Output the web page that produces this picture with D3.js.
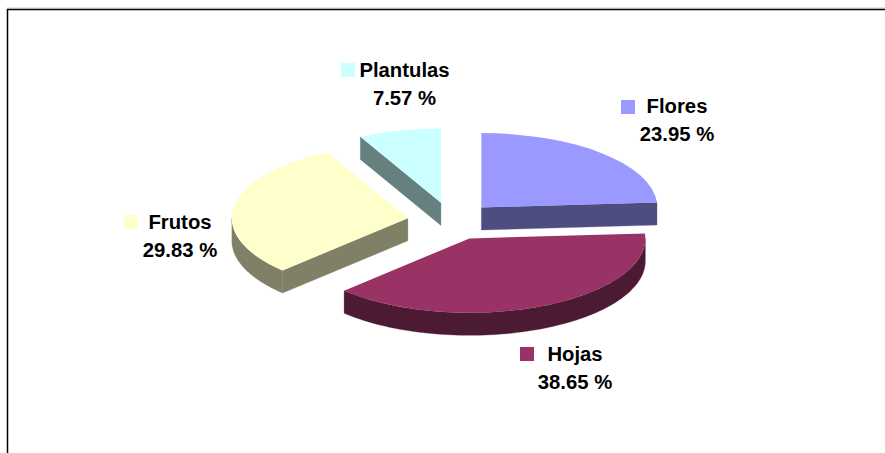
<!DOCTYPE html>
<html><head><meta charset="utf-8">
<script src="https://cdn.jsdelivr.net/npm/d3@7"></script>
<style>html,body{margin:0;padding:0;background:#fff}svg{display:block}
text{font-family:"Liberation Sans",Arial,sans-serif;font-weight:bold;font-size:20.3px;fill:#000;text-anchor:middle}</style>
</head><body><div id="chart"></div>
<script>
const categories = ["Flores","Hojas","Frutos","Plantulas"];
const values = [23.95,38.65,29.83,7.57];
const topColors = ["#9999FF","#993366","#FFFFCC","#CCFFFF"];
const sideColors = ["#4D4D80","#4D1A33","#808066","#668080"];

const W=885,H=453, cx=451.3, cy=221.2, rx=176, ry=74.3, depth=22.6, explodeX=44, explodeY=18.9;
const labelPos = [ {x:677,y:113,kx:621,ky:100}, {x:575,y:361,kx:520,ky:347},
                   {x:180,y:229,kx:124,ky:215}, {x:404.5,y:77,kx:341,ky:63} ];
const svg=d3.select("#chart").append("svg").attr("width",W).attr("height",H);

svg.append("path").attr("d",d3.line()([[7.5,H],[7.5,9.5],[W,9.5]]))
  .attr("fill","none").attr("stroke","#000").attr("stroke-width",1.5);
svg.append("line").attr("x1",7).attr("x2",W).attr("y1",8.2).attr("y2",8.2).attr("stroke","#aaa").attr("stroke-width",1);

const pie=d3.pie().sort(null).value(d=>d);
const arcs=pie(values).map((a,i)=>{
  const mid=(a.startAngle+a.endAngle)/2;
  return {...a,i,ox:cx+explodeX*Math.sin(mid),oy:cy-explodeY*Math.cos(mid)};
});
const px=(d,t)=>d.ox+rx*Math.sin(t), py=(d,t)=>d.oy-ry*Math.cos(t);
const arcGen=d3.arc().innerRadius(0).outerRadius(rx);
const wall=d3.area().x(p=>p.x).y0(p=>p.y).y1(p=>p.y+depth);

const order=[arcs[3],arcs[0],arcs[2],arcs[1]];
order.forEach(d=>{
  const g=svg.append("g").attr("class","slice");
  const side=sideColors[d.i];
  const radial=t=>{
    const pts=[{x:d.ox,y:d.oy},{x:px(d,t),y:py(d,t)}];
    g.append("path").attr("d",wall(pts)).attr("fill",side).attr("stroke",side).attr("stroke-width",.3);
  };
  if(Math.sin(d.startAngle)<-1e-6) radial(d.startAngle);
  if(Math.sin(d.endAngle)>1e-6) radial(d.endAngle);
  const a0=Math.max(d.startAngle,Math.PI/2), a1=Math.min(d.endAngle,3*Math.PI/2);
  if(a1>a0){
    const n=80;
    const pts=d3.range(n+1).map(k=>{const t=a0+(a1-a0)*k/n;return {x:px(d,t),y:py(d,t)};});
    g.append("path").attr("d",wall(pts)).attr("fill",side).attr("stroke",side).attr("stroke-width",.3);
  }
  g.append("path").attr("d",arcGen(d))
    .attr("transform",`translate(${d.ox},${d.oy}) scale(1,${ry/rx})`)
    .attr("fill",topColors[d.i]);
});

categories.forEach((c,i)=>{
  const p=labelPos[i];
  svg.append("rect").attr("x",p.kx).attr("y",p.ky).attr("width",14).attr("height",14).attr("fill",topColors[i]);
  svg.append("text").attr("x",p.x).attr("y",p.y).text(c);
  svg.append("text").attr("x",p.x).attr("y",p.y+27.5).text(d3.format(".2f")(values[i])+" %");
});
</script></body></html>
